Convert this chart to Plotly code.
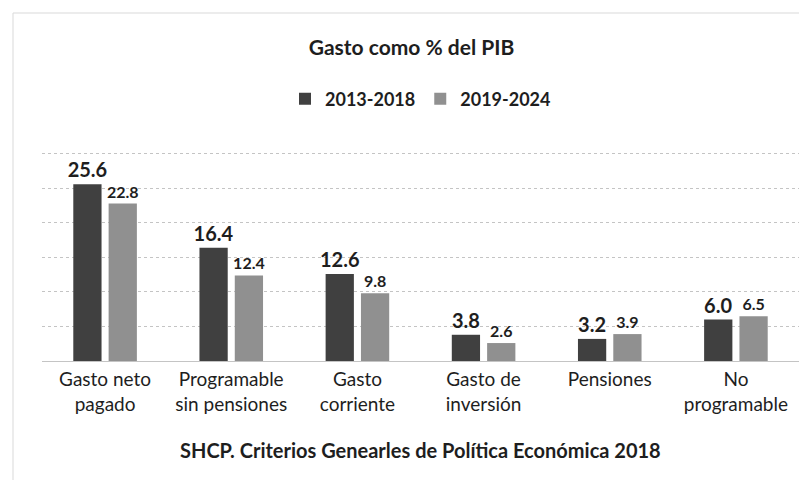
import plotly.graph_objects as go

categories = ["Gasto neto<br>pagado", "Programable<br>sin pensiones", "Gasto<br>corriente",
              "Gasto de<br>inversión", "Pensiones", "No<br>programable"]
series_names = ["2013-2018", "2019-2024"]
values_2013_2018 = [25.6, 16.4, 12.6, 3.8, 3.2, 6.0]
values_2019_2024 = [22.8, 12.4, 9.8, 2.6, 3.9, 6.5]
grid_values = [5, 10, 15, 20, 25, 30]

FONT = "Lato, Open Sans, sans-serif"
TXT = "#1e1e1e"

fig = go.Figure()
fig.add_trace(go.Bar(
    name=series_names[0], x=categories, y=values_2013_2018,
    marker=dict(color="#404040", line=dict(width=0)),
    text=[f"{v:.1f}" for v in values_2013_2018], textposition="outside",
    textfont=dict(size=20, color=TXT, family=FONT, weight="bold"),
    constraintext="none", cliponaxis=False,
))
fig.add_trace(go.Bar(
    name=series_names[1], x=categories, y=values_2019_2024,
    marker=dict(color="#909090", line=dict(width=0)),
    text=[f"{v:.1f}" for v in values_2019_2024], textposition="outside",
    textfont=dict(size=16, color=TXT, family=FONT, weight="bold"),
    constraintext="none", cliponaxis=False,
))

W, H = 807, 480
L, R, B = 34, 16, 127
T = 139
pw = W - L - R
ph = H - T - B

def px_x(px):
    return (px - L) / pw

def px_y(py):
    return (H - B - py) / ph

fig.update_layout(
    width=W, height=H,
    margin=dict(l=L, r=R, t=T, b=B),
    paper_bgcolor="white", plot_bgcolor="white",
    barmode="group", bargap=0.44, bargroupgap=0.2,
    font=dict(family=FONT, color=TXT),
    title=dict(text="Gasto como % del PIB", x=0.5, xanchor="center",
               y=1 - 40 / H, yanchor="middle",
               font=dict(size=21, color=TXT, family=FONT, weight="bold")),
    legend=dict(orientation="h", x=0.5, xanchor="center",
                y=px_y(91), yanchor="middle",
                font=dict(size=18, color=TXT, family=FONT, weight="bold"),
                itemwidth=30, traceorder="normal"),
    xaxis=dict(tickfont=dict(size=19, color=TXT, family=FONT),
               showline=False, ticks="", showgrid=False, ticklabelstandoff=5),
    yaxis=dict(range=[0, 31], tickvals=grid_values, showticklabels=False,
               showgrid=True, gridcolor="#c4c4c4", griddash="dot", gridwidth=1,
               zeroline=True, zerolinecolor="#c4c4c4", zerolinewidth=1),
    annotations=[dict(text="SHCP. Criterios Genearles de Política Económica 2018",
                      xref="paper", yref="paper", x=0.5, y=px_y(442),
                      xanchor="center", yanchor="middle", showarrow=False,
                      font=dict(size=20, color=TXT, family=FONT, weight="bold"))],
    shapes=[dict(type="rect", xref="paper", yref="paper",
                 x0=px_x(5), x1=px_x(805), y0=px_y(476), y1=px_y(5),
                 line=dict(color="#d9d9d9", width=1), layer="below")],
)

fig.write_html("out.html")
